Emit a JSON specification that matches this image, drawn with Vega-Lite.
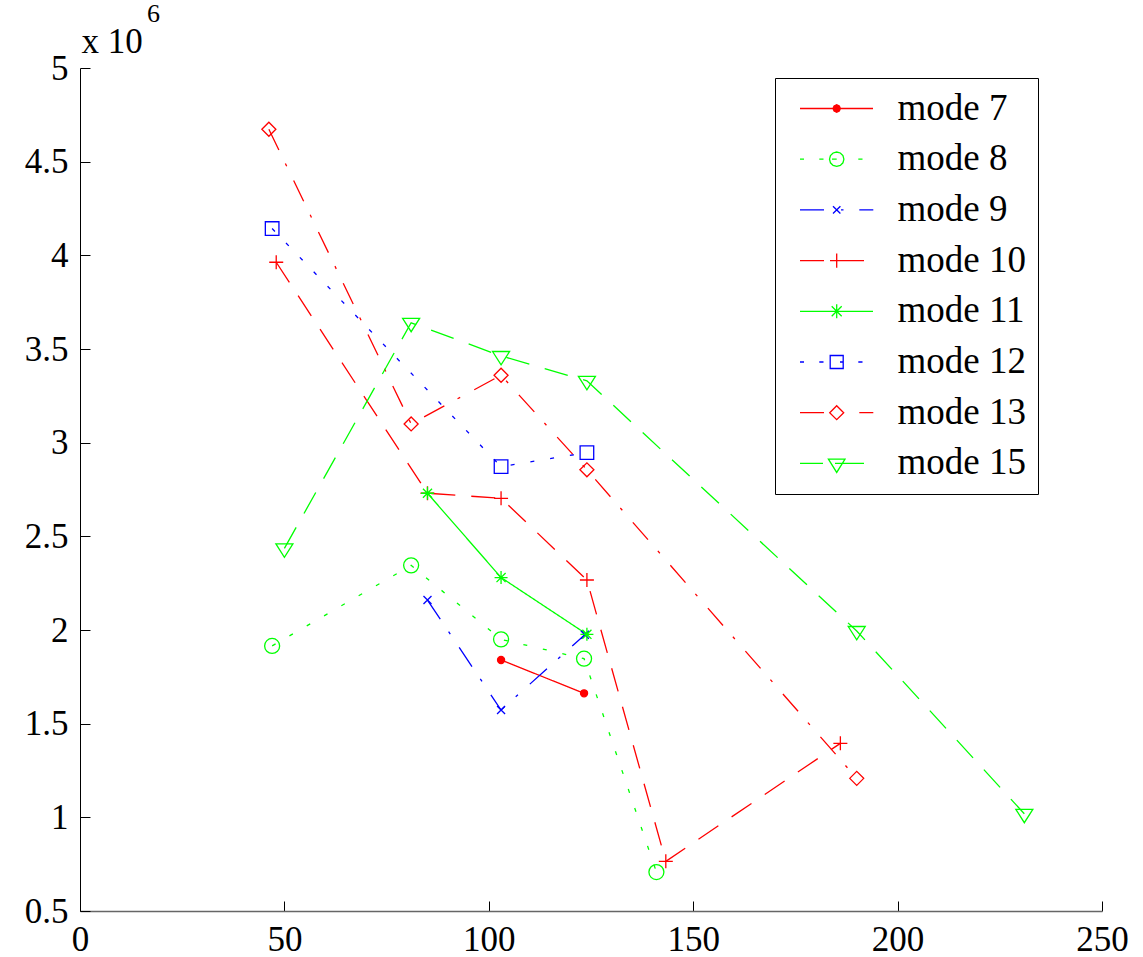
{
  "$schema": "https://vega.github.io/schema/vega-lite/v6.json",
  "width": 1022,
  "height": 843,
  "autosize": "none",
  "padding": {"left": 80, "top": 68, "right": 41, "bottom": 46},
  "background": "white",
  "title": {"text": "6", "anchor": "start", "frame": "group", "font": "Liberation Serif", "fontSize": 26, "fontWeight": "normal", "color": "black", "dx": 67, "dy": 3, "offset": 0},
  "config": {
    "view": {"stroke": null},
    "axis": {"labelFont": "Liberation Serif", "labelFontSize": 35, "labelColor": "black", "tickColor": "black", "tickSize": -10, "tickWidth": 1, "domainColor": "black", "domainWidth": 1, "grid": false, "titleFont": "Liberation Serif", "titleFontWeight": "normal", "titleColor": "black", "titleFontSize": 35, "labelOverlap": false, "labelFlush": false}
  },
  "data": {"values": [
    {"mode": "mode 7", "x": 103, "y": 1840000},
    {"mode": "mode 7", "x": 123.3, "y": 1662000},
    {"mode": "mode 8", "x": 47, "y": 1915000},
    {"mode": "mode 8", "x": 81, "y": 2345000},
    {"mode": "mode 8", "x": 103, "y": 1950000},
    {"mode": "mode 8", "x": 123.3, "y": 1847000},
    {"mode": "mode 8", "x": 141, "y": 708000},
    {"mode": "mode 9", "x": 85, "y": 2160000},
    {"mode": "mode 9", "x": 103, "y": 1573000},
    {"mode": "mode 9", "x": 123.5, "y": 1975000},
    {"mode": "mode 10", "x": 48, "y": 3963000},
    {"mode": "mode 10", "x": 85, "y": 2730000},
    {"mode": "mode 10", "x": 103, "y": 2703000},
    {"mode": "mode 10", "x": 124, "y": 2267000},
    {"mode": "mode 10", "x": 143.3, "y": 765000},
    {"mode": "mode 10", "x": 186, "y": 1395000},
    {"mode": "mode 11", "x": 85, "y": 2730000},
    {"mode": "mode 11", "x": 103, "y": 2280000},
    {"mode": "mode 11", "x": 124, "y": 1977000},
    {"mode": "mode 12", "x": 47, "y": 4143000},
    {"mode": "mode 12", "x": 103, "y": 2872000},
    {"mode": "mode 12", "x": 124, "y": 2947000},
    {"mode": "mode 13", "x": 46.2, "y": 4673000},
    {"mode": "mode 13", "x": 81, "y": 3100000},
    {"mode": "mode 13", "x": 103, "y": 3360000},
    {"mode": "mode 13", "x": 124, "y": 2855000},
    {"mode": "mode 13", "x": 190, "y": 1208000},
    {"mode": "mode 15", "x": 50, "y": 2436000},
    {"mode": "mode 15", "x": 81, "y": 3640000},
    {"mode": "mode 15", "x": 103, "y": 3463000},
    {"mode": "mode 15", "x": 124, "y": 3330000},
    {"mode": "mode 15", "x": 190, "y": 1995000},
    {"mode": "mode 15", "x": 231, "y": 1019000}
  ]},
  "encoding": {
    "x": {"field": "x", "type": "quantitative",
      "scale": {"domain": [0, 250], "nice": false, "zero": false},
      "axis": {"values": [0, 50, 100, 150, 200, 250], "title": null, "labelPadding": 21, "domainColor": "#666666", "domainWidth": 1.5}},
    "y": {"field": "y", "type": "quantitative",
      "scale": {"domain": [500000, 5000000], "nice": false, "zero": false},
      "axis": {"values": [500000, 1000000, 1500000, 2000000, 2500000, 3000000, 3500000, 4000000, 4500000, 5000000],
        "labelExpr": "datum.value / 1000000", "labelPadding": 22,
        "title": "x 10", "titleAngle": 0, "titleAlign": "left", "titleBaseline": "alphabetic", "titleX": 1, "titleY": -16}}
  },
  "layer": [
    {
      "mark": {"type": "line", "strokeWidth": 1.3},
      "encoding": {
        "color": {"field": "mode", "type": "nominal",
          "scale": {"domain": ["mode 7", "mode 8", "mode 9", "mode 10", "mode 11", "mode 12", "mode 13", "mode 15"],
                    "range": ["#ff0000", "#00ff00", "#0000ff", "#ff0000", "#00ff00", "#0000ff", "#ff0000", "#00ff00"]},
          "legend": {
            "orient": "none", "legendX": 695, "legendY": 10, "title": null,
            "padding": 12, "strokeColor": "black", "fillColor": "white",
            "symbolSize": 400, "symbolStrokeWidth": 1.3, "symbolOffset": 4.5,
            "labelFont": "Liberation Serif", "labelFontSize": 37, "labelColor": "black", "labelOffset": 69, "labelLimit": 0,
            "rowPadding": 12.7,
            "encode": {
              "symbols": {
                "update": {
                  "shape": {"signal": "['M-1,0L6.3,0M3.04,0L2.93,0.26L2.67,0.37L2.41,0.26L2.3,0L2.41,-0.26L2.67,-0.37L2.93,-0.26ZM15,0', 'M-1,0L-0.6,0M0.93,0L1.35,0M4.83,0L5.25,0M2.2,0L2.67,0M3.39,0L3.294,0.36L3.03,0.624L2.67,0.72L2.31,0.624L2.046,0.36L1.95,0L2.046,-0.36L2.31,-0.624L2.67,-0.72L3.03,-0.624L3.294,-0.36ZM15,0', 'M-1,0L1.4,0M2.3,-0.36L3.04,0.36M2.3,0.36L3.04,-0.36M3.1,0L3.35,0M4.93,0L6.33,0M15,0', 'M-1,0L1.4,0M2,0L5.4,0M2.67,-0.72L2.67,0.72M15,0', 'M-1,0L6.3,0M2.67,-0.7L2.67,0.7M1.97,0L3.37,0M2.17,-0.5L3.17,0.5M2.17,0.5L3.17,-0.5M15,0', 'M-1,0L-0.6,0M0.93,0L1.35,0M4.83,0L5.25,0M3,0L3.32,0M2.02,-0.65L3.32,-0.65L3.32,0.65L2.02,0.65ZM15,0', 'M-1,0L1.4,0M4.93,0L6.33,0M2.67,-0.7L3.37,0L2.67,0.7L1.97,0ZM15,0', 'M-1,0L1.3,0M2.5,0L5.4,0M1.84,-0.43L3.5,-0.43L2.67,0.9ZM15,0'][indexof(['mode 7', 'mode 8', 'mode 9', 'mode 10', 'mode 11', 'mode 12', 'mode 13', 'mode 15'], datum.value)]"},
                  "fill": {"signal": "datum.value === 'mode 7' ? '#ff0000' : 'transparent'"},
                  "stroke": {"scale": "color", "field": "value"},
                  "strokeWidth": {"value": 1.3},
                  "opacity": {"value": 1}
                }
              }
            }
          }},
        "strokeDash": {"field": "mode", "type": "nominal",
          "scale": {"domain": ["mode 15", "mode 13", "mode 12", "mode 11", "mode 10", "mode 9", "mode 8", "mode 7"],
                    "range": [[24, 16], [23, 15, 3, 16], [4, 16], [1, 0], [24, 16], [23, 15, 3, 16], [4, 16], [1, 0]]},
          "legend": null}
      }
    },
    {
      "mark": {"type": "point", "strokeWidth": 1.3, "opacity": 1, "filled": false},
      "encoding": {
        "stroke": {"field": "mode", "type": "nominal",
          "scale": {"domain": ["mode 15", "mode 13", "mode 12", "mode 11", "mode 10", "mode 9", "mode 8", "mode 7"],
                    "range": ["#00ff00", "#ff0000", "#0000ff", "#00ff00", "#ff0000", "#0000ff", "#00ff00", "#ff0000"]},
          "legend": null},
        "fill": {"field": "mode", "type": "nominal",
          "scale": {"domain": ["mode 15", "mode 13", "mode 12", "mode 11", "mode 10", "mode 9", "mode 8", "mode 7"],
                    "range": ["transparent", "transparent", "transparent", "transparent", "transparent", "transparent", "transparent", "#ff0000"]},
          "legend": null},
        "shape": {"field": "mode", "type": "nominal",
          "scale": {"domain": ["mode 15", "mode 13", "mode 12", "mode 11", "mode 10", "mode 9", "mode 8", "mode 7"],
                    "range": ["M-1,-0.52L1,-0.52L0,1.05Z", "diamond", "square", "M-1,0L1,0M0,-1L0,1M-0.7,-0.7L0.7,0.7M-0.7,0.7L0.7,-0.7", "M-1,0L1,0M0,-1L0,1", "M-1,-1L1,1M-1,1L1,-1", "circle", "circle"]},
          "legend": null},
        "size": {"field": "mode", "type": "nominal",
          "scale": {"type": "ordinal", "domain": ["mode 15", "mode 13", "mode 12", "mode 11", "mode 10", "mode 9", "mode 8", "mode 7"],
                    "range": [289, 196, 185, 169, 196, 64, 225, 50]},
          "legend": null}
      }
    }
  ]
}
